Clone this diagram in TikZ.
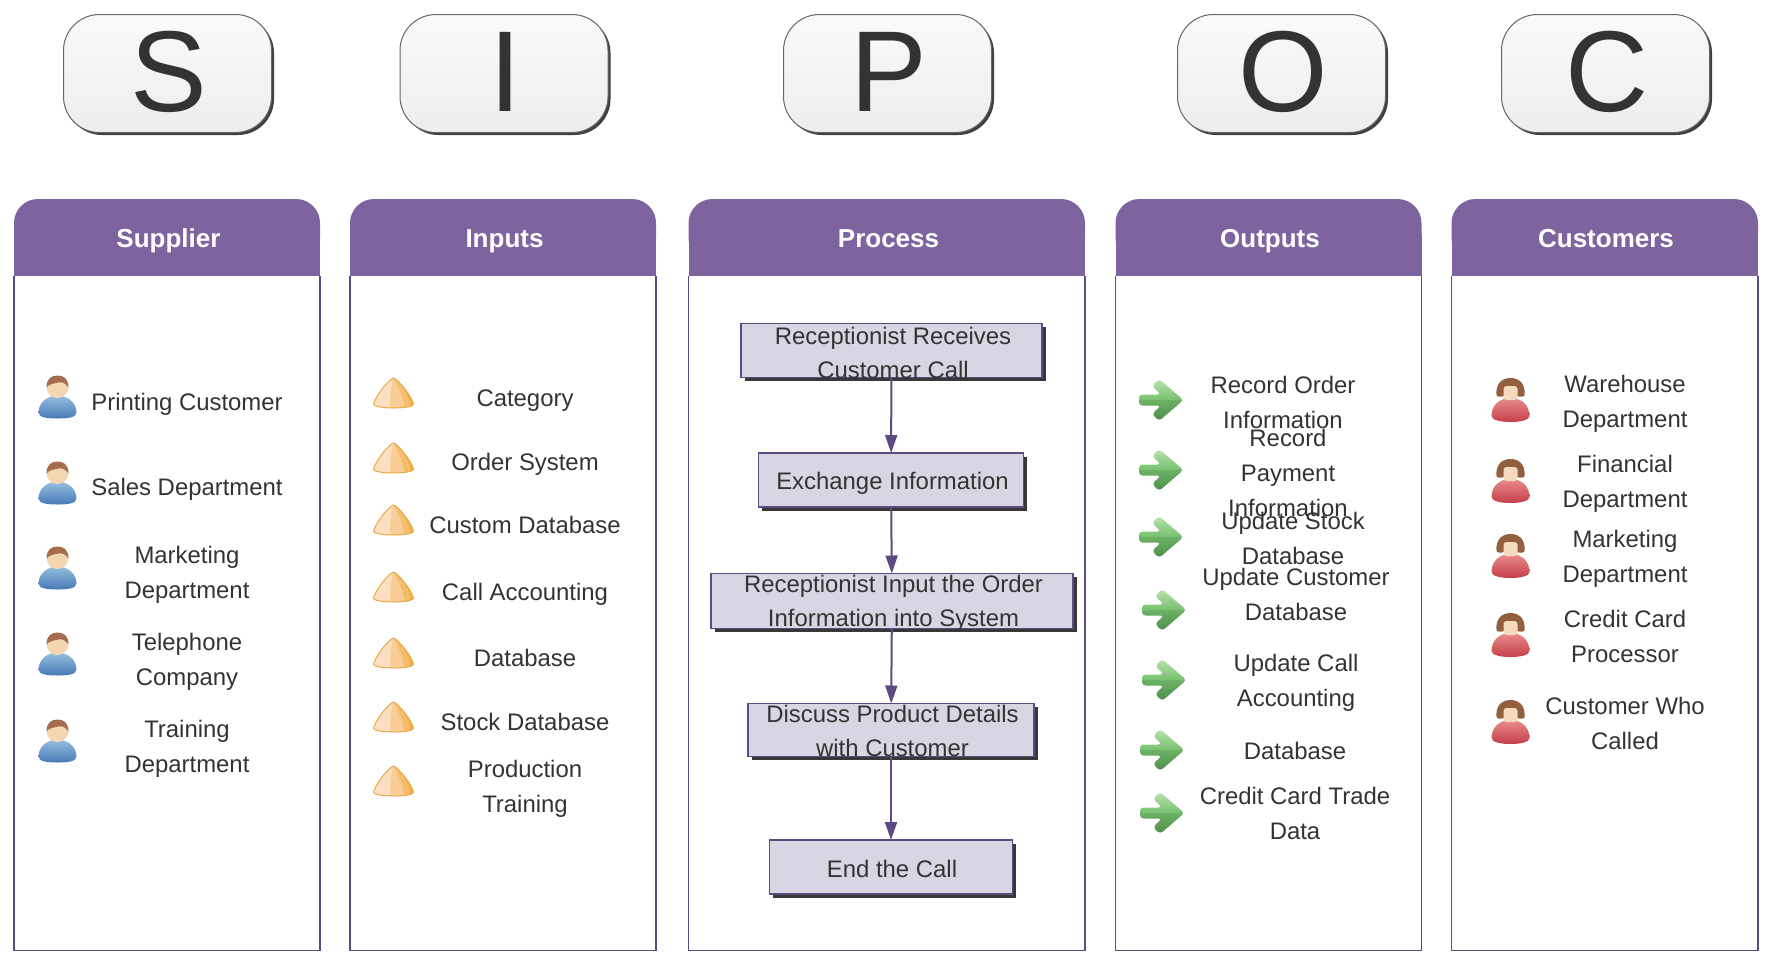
\documentclass[tikz,border=0pt]{standalone}
\usepackage{fontspec}
\setmainfont{Liberation Sans}
\usetikzlibrary{arrows.meta,shadows}
\definecolor{txt}{HTML}{333333}
\definecolor{headc}{HTML}{7E649E}
\definecolor{linec}{HTML}{5C4A80}
\definecolor{boxc}{HTML}{D9D6E3}
\definecolor{mtop}{RGB}{150,190,225}
\definecolor{mbot}{RGB}{70,122,180}
\definecolor{mface}{RGB}{245,214,178}
\definecolor{mhair}{RGB}{165,108,78}
\definecolor{fhair}{RGB}{146,96,62}
\definecolor{ftop}{RGB}{232,140,140}
\definecolor{fbot}{RGB}{196,62,72}
\definecolor{fface}{RGB}{245,218,190}
\definecolor{cone1}{RGB}{252,222,192}
\definecolor{cone2}{RGB}{249,206,150}
\definecolor{cone3}{RGB}{243,190,110}
\definecolor{cone4}{RGB}{245,176,62}
\definecolor{coneln}{RGB}{232,170,70}
\definecolor{ag1}{RGB}{190,228,178}
\definecolor{ag2}{RGB}{118,192,110}
\definecolor{ag3}{RGB}{108,178,100}
\definecolor{ag4}{RGB}{76,138,74}
\tikzset{
  x=1pt,y=-1pt,
  lbl/.style={inner sep=0pt,outer sep=0pt,align=center,text=txt,font=\fontsize{23.9}{35}\selectfont},
  proclbl/.style={inner sep=0pt,outer sep=0pt,align=center,text=txt,font=\fontsize{23.9}{34}\selectfont},
  head/.style={inner sep=0pt,text=white,text height=18.7pt,text depth=5.5pt,font=\fontsize{26}{30}\selectfont\bfseries},
  letterbox/.style={draw=black!60,line width=1pt,rounded corners=36pt,minimum width=208pt,minimum height=118pt,
    inner sep=0pt,outer sep=0pt,top color=white!98!black,bottom color=white!93!black,text=txt,font=\fontsize{115}{120}\selectfont,
    general shadow={fill=black!75,shadow xshift=2.5pt,shadow yshift=-2.5pt}},
  procbox/.style={draw=linec,line width=1.8pt,fill=boxc,inner sep=0pt,outer sep=0pt,
    general shadow={fill=black!78,shadow xshift=3.5pt,shadow yshift=-3.5pt}},
  flow/.style={draw=linec,line width=2pt,-{Triangle[length=18pt,width=12pt]}},
  maleicon/.pic={
    \shade[top color=mtop,bottom color=mbot]
      (-19,37) .. controls (-19,27) and (-10,20) .. (0,20) .. controls (10,20) and (19,27) .. (19,37)
      .. controls (19,42) and (10,43) .. (0,43) .. controls (-10,43) and (-19,42) .. (-19,37) -- cycle;
    \fill[mface] (0,11.5) circle[radius=11];
    \fill[mhair] (-11,12) .. controls (-11,3) and (-6,0) .. (0,0)
      .. controls (6,0) and (11,3) .. (11,12) .. controls (8,8) and (5,6) .. (1,7) .. controls (-3,8) and (-8,8) .. (-11,12) -- cycle;
  },
  femaleicon/.pic={
    \fill[fhair] (-14,17) .. controls (-15,6) and (-9,0) .. (0,0)
      .. controls (9,0) and (15,6) .. (14,17) .. controls (14,19) and (10,19) .. (6,18) -- (-6,18) .. controls (-10,19) and (-14,19) .. (-14,17) -- cycle;
    \shade[top color=ftop,bottom color=fbot]
      (-19,38) .. controls (-19,28) and (-12,20) .. (0,20) .. controls (12,20) and (19,28) .. (19,38)
      .. controls (19,42) and (10,44) .. (0,44) .. controls (-10,44) and (-19,42) .. (-19,38) -- cycle;
    \fill[fface,rounded corners=3pt] (-7,8) rectangle (7,22);
  },
  coneicon/.pic={
    \begin{scope}
      \clip (0,0) .. controls (4,1) and (17,16) .. (20,26) .. controls (20,29) and (8,30) .. (0,30)
        .. controls (-8,30) and (-20,29) .. (-20,26) .. controls (-17,16) and (-4,1) .. (0,0) -- cycle;
      \fill[cone1] (-21,-1) rectangle (21,31);
      \fill[cone2] (0,0) .. controls (-3,10) and (-4,20) .. (-3,31) -- (21,31) -- (21,-1) -- cycle;
      \fill[cone3] (0,0) .. controls (5,8) and (10,20) .. (11,31) -- (21,31) -- (21,-1) -- cycle;
      \fill[cone4] (8,6) .. controls (13,14) and (17,22) .. (17,31) -- (21,31) -- (21,-1) -- cycle;
    \end{scope}
    \draw[coneln,line width=1pt] (0,0) .. controls (4,1) and (17,16) .. (20,26) .. controls (20,29) and (8,30) .. (0,30)
        .. controls (-8,30) and (-20,29) .. (-20,26) .. controls (-17,16) and (-4,1) .. (0,0) -- cycle;
  },
  arrowicon/.pic={
    \begin{scope}
      \clip[rounded corners=3.5pt] (22.5,0) -- (-2,-21) -- (-9,-14) -- (0,-5.5) -- (-22,-5.5) -- (-22,5.5) -- (0,5.5) -- (-9,14) -- (-2,21) -- cycle;
      \shade[top color=ag1,bottom color=ag2] (-23,-22) rectangle (23,0);
      \shade[top color=ag3,bottom color=ag4] (-23,0) rectangle (23,22);
    \end{scope}
  },
}
\newcommand{\panelat}[2]{% x1,x2
  \fill[headc,rounded corners=24pt] (#1,199) rectangle (#2,262);
  \fill[headc] (#1,235) rectangle (#2,276);
  \draw[linec,line width=1.8pt] (#1,276) -- (#1,950.5) -- (#2,950.5) -- (#2,276);
}
\newcommand{\bigmark}[1]{\raisebox{3.5pt}{\hspace{3pt}#1}}
\begin{document}
\begin{tikzpicture}
\useasboundingbox (0,0) rectangle (1770,962);
% letter boxes
\node[letterbox] (ls) at (167.5,73.5) {\bigmark{S}};
\node[letterbox] (li) at (504,73.5) {\bigmark{I}};
\node[letterbox] (lp) at (887.5,73.5) {\bigmark{P}};
\node[letterbox] (lo) at (1281.5,73.5) {\bigmark{O}};
\node[letterbox] (lc) at (1605.5,73.5) {\bigmark{C}};
% panels
\panelat{14}{320}
\panelat{350}{656}
\panelat{688.5}{1085}
\panelat{1115.5}{1421.5}
\panelat{1451.5}{1758}
\node[head] (hs) at (168.5,241) {Supplier};
\node[head] (hi) at (504.5,241) {Inputs};
\node[head] (hp) at (888.5,241) {Process};
\node[head] (ho) at (1270,241) {Outputs};
\node[head] (hc) at (1606,241) {Customers};
% supplier
\foreach \yy in {375.5,461.5,546.5,632.5,719.5} \pic at (57.5,\yy) {maleicon};
\node[lbl] (s1) at (187,404) {Printing Customer};
\node[lbl] (s2) at (187,489.5) {Sales Department};
\node[lbl] (s3) at (187,574.5) {Marketing\\Department};
\node[lbl] (s4) at (187,662) {Telephone\\Company};
\node[lbl] (s5) at (187,749) {Training\\Department};
% inputs
\foreach \yy in {378,443,505,572,638,702,766} \pic at (393.5,\yy) {coneicon};
\node[lbl] (i1) at (525,401) {Category};
\node[lbl] (i2) at (525,464) {Order System};
\node[lbl] (i3) at (525,524.5) {Custom Database};
\node[lbl] (i4) at (525,594) {Call Accounting};
\node[lbl] (i5) at (525,657.5) {Database};
\node[lbl] (i6) at (525,722) {Stock Database};
\node[lbl] (i7) at (525,789) {Production\\Training};
% process
\node[procbox,minimum width=301pt,minimum height=54pt] (p1) at (891.5,350.5) {};
\node[procbox,minimum width=265pt,minimum height=54pt] (p2) at (891,480) {};
\node[procbox,minimum width=362pt,minimum height=55pt] (p3) at (892,601) {};
\node[procbox,minimum width=286pt,minimum height=53pt] (p4) at (891,730) {};
\node[procbox,minimum width=243pt,minimum height=54pt] (p5) at (891,867) {};
\draw[flow] (p1) -- (p2);
\draw[flow] (p2) -- (p3);
\draw[flow] (p3) -- (p4);
\draw[flow] (p4) -- (p5);
\node[proclbl] (p1t) at (893,352.5) {Receptionist Receives\\Customer Call};
\node[proclbl] (p2t) at (892.5,483.5) {Exchange Information};
\node[proclbl] (p3t) at (893.5,603.5) {Receptionist Input the Order\\Information into System};
\node[proclbl] (p4t) at (892.5,730.5) {Discuss Product Details\\with Customer};
\node[proclbl] (p5t) at (892,868.5) {End the Call};
% outputs
\pic at (1161,400) {arrowicon};
\pic at (1161,470) {arrowicon};
\pic at (1161,537) {arrowicon};
\pic at (1164,610) {arrowicon};
\pic at (1164,680) {arrowicon};
\pic at (1162,750) {arrowicon};
\pic at (1162,813) {arrowicon};
\node[lbl] (o1) at (1283,402.5) {Record Order\\Information};
\node[lbl] (o2) at (1288,472.5) {Record\\Payment\\Information};
\node[lbl] (o3) at (1293,538) {Update Stock\\Database};
\node[lbl] (o4) at (1296,594) {Update Customer\\Database};
\node[lbl] (o5) at (1296,682.5) {Update Call\\Accounting};
\node[lbl] (o6) at (1295,751) {Database};
\node[lbl] (o7) at (1295,813) {Credit Card Trade\\Data};
% customers
\foreach \yy in {378,459,534,613,700} \pic at (1510.5,\yy) {femaleicon};
\node[lbl] (c1) at (1625,403.5) {Warehouse\\Department};
\node[lbl] (c2) at (1625,483.5) {Financial\\Department};
\node[lbl] (c3) at (1625,559) {Marketing\\Department};
\node[lbl] (c4) at (1625,636.5) {Credit Card\\Processor};
\node[lbl] (c5) at (1625,723) {Customer Who\\Called};
\end{tikzpicture}
\end{document}
